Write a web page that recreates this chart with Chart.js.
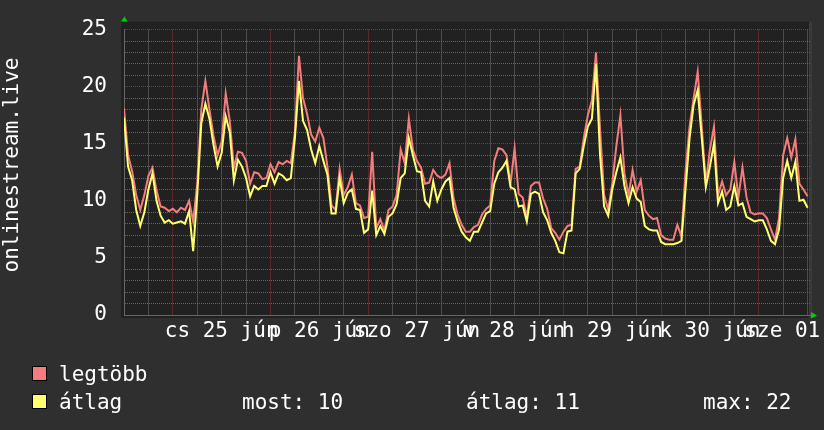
<!DOCTYPE html>
<html>
<head>
<meta charset="utf-8">
<script src="https://cdn.jsdelivr.net/npm/chart.js@4"></script>
<style>
    html, body { margin: 0; padding: 0; background: #2f2f2f; }
    canvas { display: block; }
</style>
</head>
<body>
<canvas id="chart" width="824" height="430"></canvas>
<script>
// hourly values, hour 0 = jún 24 12:00
const legtobb = [
    18.1, 14, 12.6, 10.5, 9.2, 10.5, 12.2, 12.9, 10.9, 9.5, 9.4, 9.1,
    9.3, 9.0, 9.4, 9.2, 10.0, 8.2, 11.5, 18, 20.5, 18, 15.7, 14,
    15.2, 19.4, 17, 12.9, 14.3, 14.2, 13.5, 11.5, 12.5, 12.4, 11.9, 12,
    13.2, 12.5, 13.4, 13.2, 13.5, 13.3, 16, 22.7, 19, 17.6, 15.8, 15.2,
    16.4, 15.5, 13, 9.6, 9.2, 12.8, 10.5, 11.2, 12.3, 9.8, 9.6, 8.5,
    8.6, 14.3, 7.6, 8.4, 7.4, 9.2, 9.5, 10.5, 14.5, 13.3, 17.2, 14.5,
    13.5, 12.9, 11.5, 11.6, 12.7, 12.2, 12, 12.3, 13.3, 10.2, 8.8, 7.9,
    7.3, 7.3, 7.7, 7.9, 8.8, 9.3, 9.6, 13.5, 14.6, 14.5, 14, 11.5,
    14.6, 10.6, 10.3, 8.5, 11.3, 11.6, 11.6, 10.2, 9.3, 7.6, 7.2, 6.6,
    7.3, 7.8, 7.9, 12.8, 13, 15.5, 17.5, 18.8, 23, 16.3, 10.5, 9.2,
    11.5, 14.8, 17.5, 12.4, 10.5, 12.7, 10.8, 11.8, 9.2, 8.7, 8.4, 8.5,
    7, 6.7, 6.6, 6.6, 7.9, 6.9, 12.5, 16.5, 19, 21.3, 16.5, 11.5,
    14.5, 16.5, 10.5, 11.7, 10.5, 11, 13.4, 10.3, 12.9, 10.3, 9, 8.8,
    8.9, 8.9, 8.5, 7.5, 6.6, 8.5, 14, 15.5, 13.8, 15.4, 11.5, 11,
    10.4,
]
const atlag = [
    17.3, 13, 11.8, 9.2, 7.8, 9, 11, 12.4, 10, 8.7, 8.1, 8.3,
    8, 8.1, 8.2, 8, 9.1, 5.6, 10.5, 16.8, 18.5, 17.2, 14.9, 13,
    14.2, 17.4, 16, 11.8, 13.6, 13, 12, 10.4, 11.3, 11, 11.3, 11.3,
    12.5, 11.5, 12.4, 12.2, 11.8, 12, 15.5, 20.5, 17, 16.2, 14.5, 13.3,
    14.8, 13.5, 12.3, 8.9, 8.9, 12, 9.8, 10.7, 11, 9.3, 9.2, 7.2,
    7.5, 10.9, 7, 7.8, 7.1, 8.6, 8.9, 9.7, 12, 12.4, 15.5, 14,
    12.6, 12.5, 10, 9.5, 11.7, 10, 11, 11.7, 12, 9.4, 8.2, 7.3,
    6.8, 6.5, 7.3, 7.3, 8.1, 8.9, 9.1, 11.5, 12.5, 12.9, 13.5, 11.2,
    11, 9.5, 9.6, 8.2, 10.6, 10.8, 10.6, 9, 8.3, 7.2, 6.5, 5.5,
    5.4, 7.3, 7.4, 12.4, 12.8, 14.8, 16.5, 17.2, 22, 14, 9.5, 8.7,
    11, 12.5, 13.8, 11.3, 9.8, 11.2, 10.2, 9.9, 7.8, 7.5, 7.4, 7.4,
    6.4, 6.2, 6.2, 6.2, 6.3, 6.5, 11, 15.5, 18.4, 19.7, 15.5, 11.2,
    13, 15, 9.8, 10.8, 9.2, 9.5, 11.3, 9.6, 9.8, 8.6, 8.4, 8.2,
    8.3, 8.3, 7.5, 6.5, 6.2, 7.5, 12, 13.5, 12, 13.4, 10, 10.1,
    9.4,
]
const hours = legtobb.map((v, i) => i)

// day labels sit at noon of each day
const dayTicks = [24, 48, 72, 96, 120, 144, 168]
const dayLabels = ['cs 25 jún', 'p 26 jún', 'szo 27 jún', 'v 28 jún', 'h 29 jún', 'k 30 jún', 'sze 01 júl']

const yTitle = 'onlinestream.live'
const seriesNames = ['legtöbb', 'átlag']
const statTexts = ['most: 10', 'átlag: 11', 'max: 22']

const FONT = "'DejaVu Sans Mono', monospace"
const RED = '#f47c7c'
const YELLOW = '#ffff70'
const GRID_MAJOR = '#853636'
const GRID_MINOR_H = '#666666'
const GRID_MINOR_V = '#777777'
const AXIS = '#666666'
const TEXT = '#ffffff'

const isMidnight = (v) => (v - 12) % 24 === 0

const backgroundPlugin = {
    id: 'background',
    beforeDraw(chart) {
        const { ctx, chartArea: a } = chart
        ctx.save()
        ctx.fillStyle = '#2f2f2f'
        ctx.fillRect(0, 0, chart.width, chart.height)
        ctx.fillStyle = '#212121'
        ctx.fillRect(a.left - 3, a.top - 8, a.right - a.left + 5, a.bottom - a.top + 11)
        ctx.fillStyle = '#3a3a3a'
        ctx.fillRect(a.right - 1, a.top - 8, 3, a.bottom - a.top + 11)
        ctx.restore()
    },
}

const decorPlugin = {
    id: 'decor',
    afterDraw(chart) {
        const { ctx, chartArea: a } = chart
        const x = chart.scales.x
        ctx.save()

        // axis arrows
        ctx.fillStyle = '#00d000'
        ctx.beginPath()
        ctx.moveTo(a.left - 3, a.top - 8)
        ctx.lineTo(a.left + 3.5, a.top - 8)
        ctx.lineTo(a.left + 0.5, a.top - 13)
        ctx.fill()
        ctx.beginPath()
        ctx.moveTo(a.right + 1, a.bottom - 3)
        ctx.lineTo(a.right + 1, a.bottom + 3.5)
        ctx.lineTo(a.right + 7, a.bottom + 0.5)
        ctx.fill()

        ctx.font = '21px ' + FONT
        ctx.fillStyle = TEXT

        // x labels
        ctx.textAlign = 'center'
        ctx.textBaseline = 'alphabetic'
        dayTicks.forEach((h, i) => {
            ctx.fillText(dayLabels[i], x.getPixelForValue(h), a.bottom + 22)
        })

        // y title
        ctx.save()
        ctx.translate(13, 165)
        ctx.rotate(-Math.PI / 2)
        ctx.textBaseline = 'middle'
        ctx.fillText(yTitle, 0, 0)
        ctx.restore()

        // legend
        const rows = [381, 409]
        const colors = [RED, YELLOW]
        ctx.textAlign = 'left'
        rows.forEach((base, i) => {
            ctx.fillStyle = colors[i]
            ctx.fillRect(32, base - 15, 15, 15)
            ctx.strokeStyle = '#000'
            ctx.lineWidth = 1
            ctx.strokeRect(32.5, base - 14.5, 14, 14)
            ctx.fillStyle = TEXT
            ctx.fillText(seriesNames[i], 59, base)
        })
        const statX = [242, 466, 703]
        statTexts.forEach((t, i) => ctx.fillText(t, statX[i], rows[1]))

        ctx.restore()
    },
}

const ctx = document.getElementById('chart').getContext('2d')
new Chart(ctx, {
    type: 'line',
    data: {
        labels: hours,
        datasets: [
            {
                label: seriesNames[0],
                data: legtobb,
                borderColor: RED,
                borderWidth: 2,
                pointRadius: 0,
                tension: 0,
                order: 2,
            },
            {
                label: seriesNames[1],
                data: atlag,
                borderColor: YELLOW,
                borderWidth: 2,
                pointRadius: 0,
                tension: 0,
                order: 1,
            },
        ],
    },
    options: {
        responsive: false,
        animation: false,
        devicePixelRatio: 1,
        layout: { padding: { top: 21, right: 14, bottom: 115, left: 0 } },
        plugins: {
            legend: { display: false },
            tooltip: { enabled: false },
        },
        scales: {
            x: {
                type: 'linear',
                min: 0,
                max: 168.6,
                afterFit: (s) => {
                    s.height = 0
                },
                ticks: { display: false, stepSize: 6, includeBounds: false, autoSkip: false, maxTicksLimit: 100 },
                grid: {
                    drawTicks: false,
                    lineWidth: 1,
                    color: (c) => (c.tick && isMidnight(c.tick.value) ? GRID_MAJOR : GRID_MINOR_V),
                },
                border: { display: true, color: AXIS, dash: [1, 1] },
            },
            y: {
                min: 0,
                max: 25,
                afterFit: (s) => {
                    s.width = 124
                },
                ticks: {
                    stepSize: 1,
                    autoSkip: false,
                    maxTicksLimit: 100,
                    padding: 17,
                    color: TEXT,
                    font: { family: FONT, size: 21 },
                    callback: (v) => (v % 5 === 0 ? v : ''),
                },
                grid: {
                    drawTicks: false,
                    lineWidth: 1,
                    color: (c) => (c.tick && c.tick.value % 5 === 0 ? GRID_MAJOR : GRID_MINOR_H),
                },
                border: { display: true, color: AXIS, dash: [1, 1] },
            },
        },
    },
    plugins: [backgroundPlugin, decorPlugin],
})
</script>
</body>
</html>
